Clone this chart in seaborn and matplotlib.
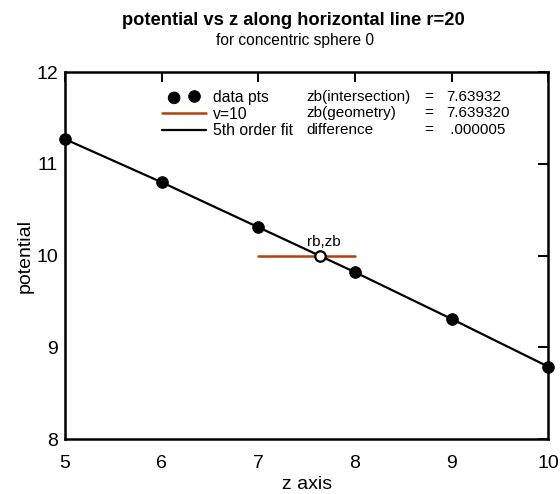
import numpy as np
import pandas as pd
import matplotlib
matplotlib.use("Agg")
import matplotlib.pyplot as plt
from matplotlib.legend_handler import HandlerPathCollection
import seaborn as sns

# data
z_pts = [5, 6, 7, 8, 9, 10]
v_pts = [11.27, 10.80, 10.31, 9.82, 9.31, 8.79]
v_level = 10
v_line_z = [7, 8]
zb = 7.63932
info_names = ["zb(intersection)", "zb(geometry)", "difference"]
info_values = ["7.63932", "7.639320", " .000005"]

sns.set_style("white")
plt.rcParams["font.family"] = ["Liberation Sans", "DejaVu Sans"]
plt.rcParams["text.color"] = "black"
plt.rcParams["axes.labelcolor"] = "black"

df = pd.DataFrame({"z": z_pts, "v": v_pts})

fig = plt.figure(figsize=(5.6, 4.94), dpi=100)
ax = fig.add_axes([0.116, 0.111, 0.863, 0.743])

orange = "#b5400a"
sns.lineplot(data=df, x="z", y="v", color="black", lw=1.6, ax=ax,
             label="5th order fit", zorder=3)
ax.plot(v_line_z, [v_level, v_level], color=orange, lw=1.8, label="v=10", zorder=2)
sns.scatterplot(data=df, x="z", y="v", color="black", s=70, edgecolor="black",
                ax=ax, label="data pts", zorder=4, clip_on=False)
ax.plot([zb], [v_level], marker="o", ms=7.5, mfc="white", mec="black", mew=1.6,
        zorder=5)
ax.text(7.5, 10.1, "rb,zb", fontsize=11)

ax.set_xlim(5, 10)
ax.set_ylim(8, 12)
ax.set_xticks([5, 6, 7, 8, 9, 10])
ax.set_yticks([8, 9, 10, 11, 12])
ax.tick_params(direction="in", length=7.5, width=1.4, top=True, right=True,
               labelsize=14, colors="black")
ax.tick_params(axis="x", pad=11.5)
ax.tick_params(axis="y", pad=5)
for s in ax.spines.values():
    s.set_color("black")
    s.set_linewidth(1.8)
ax.set_xlabel("z axis", fontsize=14, labelpad=3)
ax.set_ylabel("potential", fontsize=14, labelpad=1.5)

h, l = ax.get_legend_handles_labels()
order = [l.index("data pts"), l.index("v=10"), l.index("5th order fit")]
dot_handle = h[l.index("data pts")]
leg = ax.legend([h[i] for i in order], [l[i] for i in order],
                loc="upper left", bbox_to_anchor=(0.182, 0.977), frameon=False,
                fontsize=11.3, handlelength=2.8, handletextpad=0.4,
                labelspacing=0.1, scatterpoints=2, borderaxespad=0.2,
                handler_map={dot_handle: HandlerPathCollection(marker_pad=0.75)})

row_y = [11.73, 11.55, 11.37]
for name, val, y in zip(info_names, info_values, row_y):
    ax.text(7.5, y, name, fontsize=11, va="center")
    ax.text(8.76, y, "=", fontsize=11, va="center", ha="center")
    ax.text(8.94, y, val, fontsize=11, va="center")

fig.text(0.523, 0.949, "potential vs z along horizontal line r=20",
         ha="center", fontsize=13.2, fontweight="bold")
fig.text(0.527, 0.909, "for concentric sphere 0", ha="center", fontsize=11.2)

fig.savefig("out.png", dpi=100)
